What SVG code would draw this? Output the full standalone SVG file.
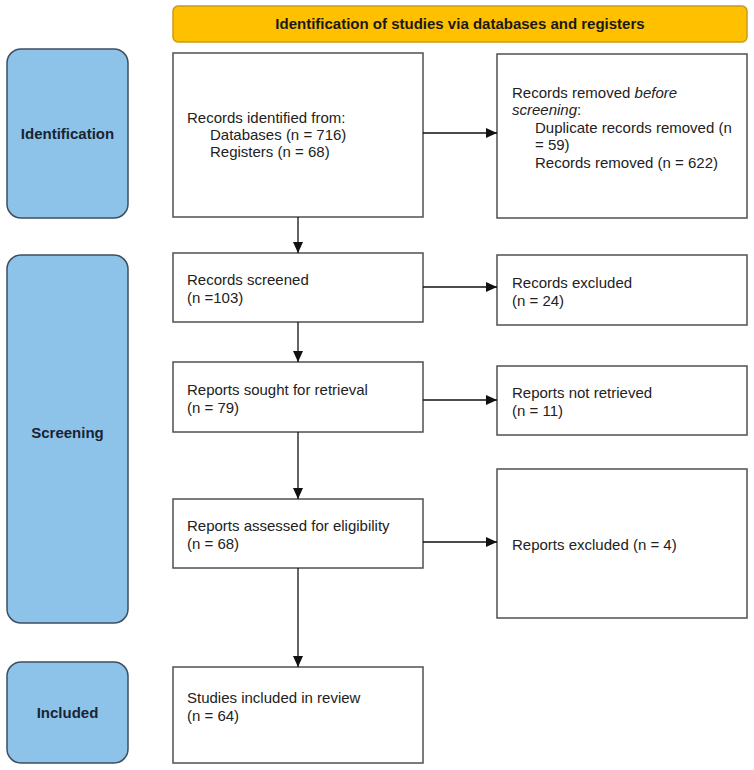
<svg xmlns="http://www.w3.org/2000/svg" width="754" height="770" viewBox="0 0 754 770">
<style>
.box{fill:#fff;stroke:#505050;stroke-width:1.5}
.stage{fill:#8DC3E9;stroke:#3E4E60;stroke-width:1.5}
.t{font-family:"Liberation Sans",Arial,sans-serif;font-size:15px;fill:#222}
.sl{font-family:"Liberation Sans",Arial,sans-serif;font-size:15px;font-weight:bold;fill:#1a2333;text-anchor:middle}
.ttl{font-family:"Liberation Sans",Arial,sans-serif;font-size:15px;font-weight:bold;fill:#1a1a1a;text-anchor:middle}
.c{stroke:#111;stroke-width:1.3;fill:none;marker-end:url(#ah)}
</style>
<defs>
<marker id="ah" markerUnits="userSpaceOnUse" markerWidth="12" markerHeight="10" refX="11" refY="5" orient="auto">
<path d="M0,0 L11,5 L0,10 Z" fill="#111"/>
</marker>
</defs>
<rect width="754" height="770" fill="#fff"/>
<g id="title">
<rect x="173" y="6" width="574" height="36" rx="5" fill="#FFC000" stroke="#C99A1E" stroke-width="1.5"/>
<text class="ttl" x="460" y="29">Identification of studies via databases and registers</text>
</g>
<g id="stage-identification">
<rect class="stage" x="7" y="49" width="121" height="169" rx="14"/>
<text class="sl" x="67.5" y="139">Identification</text>
</g>
<g id="stage-screening">
<rect class="stage" x="7" y="255" width="121" height="368" rx="14"/>
<text class="sl" x="67.5" y="438">Screening</text>
</g>
<g id="stage-included">
<rect class="stage" x="7" y="662" width="121" height="101" rx="14"/>
<text class="sl" x="67.5" y="718">Included</text>
</g>
<g id="records-identified">
<rect class="box" x="173" y="53" width="250" height="164"/>
<text class="t" x="187" y="123">Records identified from:</text>
<text class="t" x="210" y="140">Databases (n = 716)</text>
<text class="t" x="210" y="157">Registers (n = 68)</text>
</g>
<g id="records-removed">
<rect class="box" x="497" y="54" width="250" height="164"/>
<text class="t" x="512" y="98">Records removed <tspan font-style="italic">before</tspan></text>
<text class="t" x="512" y="115"><tspan font-style="italic">screening</tspan>:</text>
<text class="t" x="535" y="133">Duplicate records removed (n</text>
<text class="t" x="535" y="150">= 59)</text>
<text class="t" x="535" y="168">Records removed (n = 622)</text>
</g>
<g id="records-screened">
<rect class="box" x="173" y="253" width="250" height="69"/>
<text class="t" x="187" y="285">Records screened</text>
<text class="t" x="187" y="303">(n =103)</text>
</g>
<g id="records-excluded">
<rect class="box" x="497" y="255" width="250" height="70"/>
<text class="t" x="512" y="288">Records excluded</text>
<text class="t" x="512" y="306">(n = 24)</text>
</g>
<g id="reports-sought">
<rect class="box" x="173" y="362" width="250" height="70"/>
<text class="t" x="187" y="395">Reports sought for retrieval</text>
<text class="t" x="187" y="413">(n = 79)</text>
</g>
<g id="reports-not-retrieved">
<rect class="box" x="497" y="366" width="250" height="69"/>
<text class="t" x="512" y="398">Reports not retrieved</text>
<text class="t" x="512" y="416">(n = 11)</text>
</g>
<g id="reports-assessed">
<rect class="box" x="173" y="499" width="250" height="69"/>
<text class="t" x="187" y="531">Reports assessed for eligibility</text>
<text class="t" x="187" y="549">(n = 68)</text>
</g>
<g id="reports-excluded">
<rect class="box" x="497" y="469" width="250" height="149"/>
<text class="t" x="512" y="550">Reports excluded (n = 4)</text>
</g>
<g id="studies-included">
<rect class="box" x="173" y="667" width="250" height="96"/>
<text class="t" x="187" y="703">Studies included in review</text>
<text class="t" x="187" y="721">(n = 64)</text>
</g>
<g id="connectors">
<line class="c" x1="423" y1="133" x2="497" y2="133"/>
<line class="c" x1="298" y1="217" x2="298" y2="253"/>
<line class="c" x1="423" y1="287" x2="497" y2="287"/>
<line class="c" x1="298" y1="322" x2="298" y2="362"/>
<line class="c" x1="423" y1="400" x2="497" y2="400"/>
<line class="c" x1="298" y1="432" x2="298" y2="499"/>
<line class="c" x1="423" y1="542" x2="497" y2="542"/>
<line class="c" x1="298" y1="568" x2="298" y2="667"/>
</g>
</svg>
